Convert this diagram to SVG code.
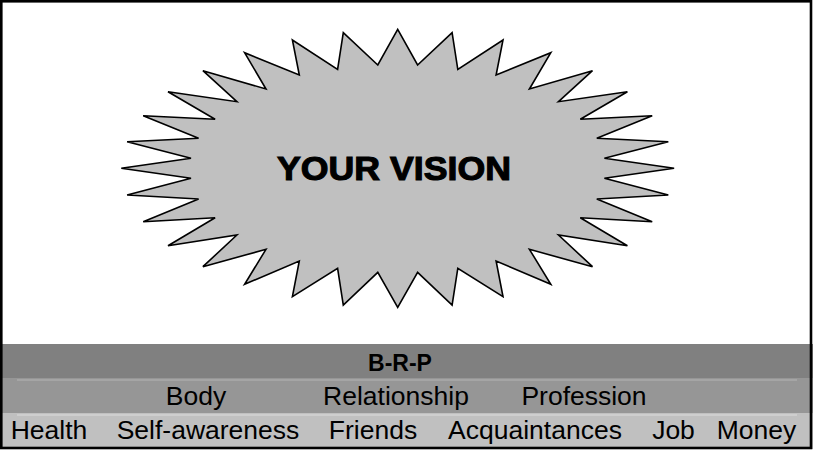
<svg xmlns="http://www.w3.org/2000/svg" width="813" height="450" viewBox="0 0 813 450">
<style>
.t{font-family:"Liberation Sans",Arial,sans-serif;fill:#000;text-anchor:middle}
.row{font-size:26.5px}
.hl{stroke-width:1.2;fill:none}
</style>
<rect x="0" y="0" width="813" height="450" fill="#fff"/>
<g id="vision">
<polygon fill="#c0c0c0" stroke="#000" stroke-width="1.6" stroke-linejoin="miter" points="397.7,29.3 417.6,65 452.1,32.7 457.8,69.3 503,40 496.1,75 550.8,52.7 529.4,89 592.5,70.7 558.5,101.7 627.4,91.7 580.3,119.3 652.2,115.7 596.8,138.3 668.3,141.7 604.4,158.3 674.1,168.3 604.4,178.3 668.3,195 596.8,199 652.2,221.7 580.3,217.7 627.4,245.7 558.5,235 592.5,266.7 529.4,249.3 550.8,284.3 496.1,261 503,296.7 457.8,268.3 452.1,305 417.6,272.3 397.7,307.3 377.8,272.3 343.3,305 337.6,268.3 292.4,296.7 299.3,261 244.6,284.3 266,249.3 202.9,266.7 236.9,235 168,245.7 215.1,217.7 143.2,221.7 198.6,199 127.1,195 191,178.3 121.3,168.3 191,158.3 127.1,141.7 198.6,138.3 143.2,115.7 215.1,119.3 168,91.7 236.9,101.7 202.9,70.7 266,89 244.6,52.7 299.3,75 292.4,40 337.6,69.3 343.3,32.7 377.8,65"/>
<text class="t" x="394" y="179.5" font-size="33" font-weight="bold" stroke="#000" stroke-width="1.1" textLength="234" lengthAdjust="spacingAndGlyphs">YOUR VISION</text>
</g>
<g id="brp">
<rect x="0" y="344" width="813" height="34" fill="#808080"/>
<text class="t" x="400" y="370.5" font-size="23" font-weight="bold">B-R-P</text>
</g>
<g id="areas">
<rect x="0" y="378" width="813" height="35" fill="#969696"/>
<line class="hl" x1="17" y1="380" x2="797" y2="380" stroke="#b4b4b4"/>
<text class="t row" x="196" y="405">Body</text>
<text class="t row" x="396" y="405">Relationship</text>
<text class="t row" x="584" y="405">Profession</text>
</g>
<g id="items">
<rect x="0" y="413" width="813" height="36" fill="#c0c0c0"/>
<line class="hl" x1="17" y1="415" x2="797" y2="415" stroke="#dcdcdc"/>
<text class="t row" x="49" y="439">Health</text>
<text class="t row" x="208" y="439">Self-awareness</text>
<text class="t row" x="373" y="439">Friends</text>
<text class="t row" x="535" y="439">Acquaintances</text>
<text class="t row" x="673.5" y="439">Job</text>
<text class="t row" x="756.5" y="439">Money</text>
</g>
<rect id="frame" x="1.3" y="1.3" width="809.7" height="446.7" fill="none" stroke="#000" stroke-width="2.6"/>
</svg>
